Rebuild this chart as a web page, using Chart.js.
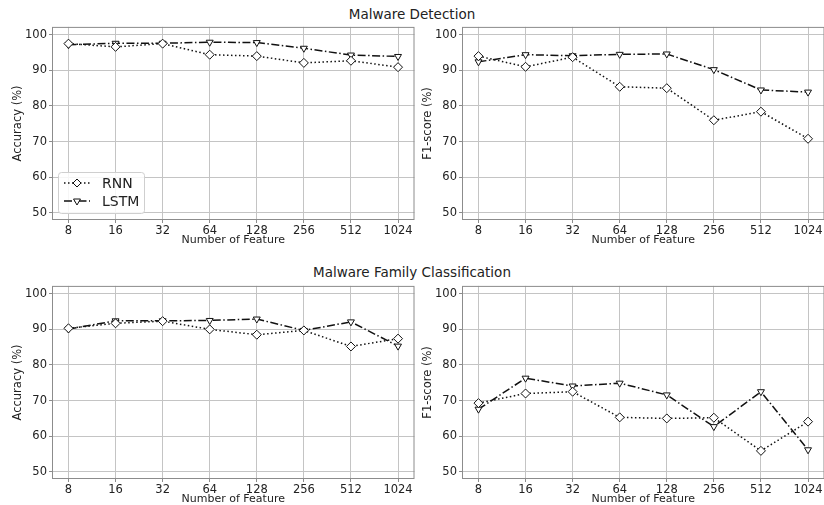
<!DOCTYPE html>
<html lang="en">
<head>
  <meta charset="UTF-8">
  <title>Malware Detection / Family Classification</title>
  <script src="https://cdn.jsdelivr.net/npm/chart.js"></script>
  <style>
    html, body {
      margin: 0;
      padding: 0;
      width: 824px;
      height: 505px;
      overflow: hidden;
      background: #fff;
      font-family: "DejaVu Sans", sans-serif;
    }
    .box {
      position: absolute;
      width: 420px;
      height: 232px;
    }
    .section-title {
      position: absolute;
      width: 824px;
      left: 0;
      text-align: center;
      font-size: 13.5px;
      color: #222;
    }
  </style>
</head>
<body>
  <div class="section-title" style="top:6px;">Malware Detection</div>
  <div class="section-title" style="top:264px;">Malware Family Classification</div>

  <div class="box" style="left:0px;top:18px;"><canvas id="detAcc"></canvas></div>
  <div class="box" style="left:410px;top:18px;"><canvas id="detF1"></canvas></div>
  <div class="box" style="left:0px;top:277px;"><canvas id="famAcc"></canvas></div>
  <div class="box" style="left:410px;top:277px;"><canvas id="famF1"></canvas></div>

  <script>
    const features = ['8', '16', '32', '64', '128', '256', '512', '1024'];
    const yTicks = [50, 60, 70, 80, 90, 100];

    // Malware detection
    const detAccRnn = [97.5, 96.6, 97.5, 94.4, 94.0, 92.1, 92.7, 90.9];
    const detAccLstm = [97.2, 97.6, 97.6, 97.9, 97.8, 96.2, 94.3, 93.9];
    const detF1Rnn = [94.0, 91.0, 93.7, 85.4, 85.0, 76.0, 78.4, 70.8];
    const detF1Lstm = [92.4, 94.4, 94.1, 94.5, 94.6, 90.2, 84.5, 83.9];

    // Malware family classification
    const famAccRnn = [90.3, 91.7, 92.3, 90.0, 88.5, 89.7, 85.2, 87.4];
    const famAccLstm = [90.1, 92.4, 92.4, 92.5, 92.9, 89.7, 92.1, 85.3];
    const famF1Rnn = [69.3, 72.0, 72.5, 65.3, 65.0, 65.2, 55.9, 64.1];
    const famF1Lstm = [67.6, 76.3, 74.1, 74.9, 71.6, 62.7, 72.5, 56.2];

    const rnnDash = [1.5, 2.5];
    const lstmDash = [8, 2.5, 1.5, 2.5];
    const gridColor = '#c4c4c4';
    const textColor = '#222';

    function toPoints(values) {
      return values.map((v, i) => ({ x: i, y: v }));
    }

    // axes frame drawn under the lines
    const framePlugin = {
      id: 'frame',
      beforeDatasetsDraw(chart) {
        const a = chart.chartArea;
        const ctx = chart.ctx;
        ctx.save();
        ctx.strokeStyle = '#8c8c8c';
        ctx.lineWidth = 1;
        ctx.strokeRect(a.left + 0.5, a.top + 0.5, a.right - a.left - 1, a.bottom - a.top - 1);
        ctx.restore();
      }
    };

    function diamond(ctx, x, y, r) {
      ctx.beginPath();
      ctx.moveTo(x, y - r);
      ctx.lineTo(x + r, y);
      ctx.lineTo(x, y + r);
      ctx.lineTo(x - r, y);
      ctx.closePath();
      ctx.fillStyle = '#fff';
      ctx.fill();
      ctx.stroke();
    }

    function triDown(ctx, x, y, r) {
      ctx.beginPath();
      ctx.moveTo(x, y + r);
      ctx.lineTo(x + r * 0.866, y - r / 2);
      ctx.lineTo(x - r * 0.866, y - r / 2);
      ctx.closePath();
      ctx.fillStyle = '#fff';
      ctx.fill();
      ctx.stroke();
    }

    // legend inside the first panel, lower left
    const legendPlugin = {
      id: 'insideLegend',
      afterDraw(chart) {
        if (!chart.options.plugins.insideLegend.show) return;
        const a = chart.chartArea;
        const ctx = chart.ctx;
        const bx = a.left + 6, by = a.bottom - 48, bw = 86, bh = 41;
        ctx.save();
        ctx.fillStyle = 'rgba(255,255,255,0.85)';
        ctx.strokeStyle = '#cfcfcf';
        ctx.lineWidth = 1;
        ctx.beginPath();
        ctx.roundRect(bx + 0.5, by + 0.5, bw, bh, 3);
        ctx.fill();
        ctx.stroke();

        const entries = [
          { label: 'RNN', dash: rnnDash, marker: diamond, r: 4, y: by + 11 },
          { label: 'LSTM', dash: lstmDash, marker: triDown, r: 4, y: by + 29 }
        ];
        entries.forEach(e => {
          ctx.strokeStyle = '#111';
          ctx.lineWidth = 1.5;
          ctx.setLineDash(e.dash);
          ctx.beginPath();
          ctx.moveTo(bx + 6, e.y);
          ctx.lineTo(bx + 32, e.y);
          ctx.stroke();
          ctx.setLineDash([]);
          ctx.lineWidth = 1;
          e.marker(ctx, bx + 19, e.y, e.r);
          ctx.fillStyle = textColor;
          ctx.font = '14px "DejaVu Sans"';
          ctx.textBaseline = 'middle';
          ctx.textAlign = 'left';
          ctx.fillText(e.label, bx + 44, e.y + 1);
        });
        ctx.restore();
      }
    };

    function makeChart(id, yTitle, rnn, lstm, showLegend) {
      const ctx = document.getElementById(id).getContext('2d');
      return new Chart(ctx, {
        type: 'line',
        data: {
          datasets: [
            {
              label: 'RNN',
              data: toPoints(rnn),
              borderColor: '#111',
              borderWidth: 1.5,
              borderDash: rnnDash,
              pointStyle: 'rectRot',
              pointRadius: 4.5,
              pointBackgroundColor: '#fff',
              pointBorderColor: '#111',
              pointBorderWidth: 1,
              fill: false,
              tension: 0
            },
            {
              label: 'LSTM',
              data: toPoints(lstm),
              borderColor: '#111',
              borderWidth: 1.5,
              borderDash: lstmDash,
              pointStyle: 'triangle',
              pointRotation: 180,
              pointRadius: 4,
              pointBackgroundColor: '#fff',
              pointBorderColor: '#111',
              pointBorderWidth: 1,
              fill: false,
              tension: 0
            }
          ]
        },
        options: {
          responsive: true,
          maintainAspectRatio: false,
          animation: false,
          layout: { padding: { top: 6, right: 3, left: 0, bottom: 0 } },
          plugins: {
            legend: { display: false },
            tooltip: { enabled: false },
            insideLegend: { show: showLegend }
          },
          scales: {
            x: {
              type: 'linear',
              min: -0.35,
              max: 7.35,
              afterBuildTicks(scale) {
                scale.ticks = features.map((f, i) => ({ value: i }));
              },
              afterFit(scale) { scale.height = 30; },
              ticks: {
                callback: (v) => features[v],
                color: textColor,
                font: { family: 'DejaVu Sans', size: 11.5 },
                padding: 1,
                maxRotation: 0,
                autoSkip: false
              },
              grid: { color: gridColor, lineWidth: 1, tickLength: 3, tickColor: '#8c8c8c' },
              border: { display: false },
              title: {
                display: true,
                text: 'Number of Feature',
                color: textColor,
                font: { family: 'DejaVu Sans', size: 11 },
                padding: { top: 0, bottom: 3 }
              }
            },
            y: {
              min: 48,
              max: 102.2,
              afterBuildTicks(scale) {
                scale.ticks = yTicks.map(v => ({ value: v }));
              },
              afterFit(scale) { scale.width = 52; },
              ticks: {
                color: textColor,
                font: { family: 'DejaVu Sans', size: 11.5 },
                padding: 2
              },
              grid: { color: gridColor, lineWidth: 1, tickLength: 3, tickColor: '#8c8c8c' },
              border: { display: false },
              title: {
                display: true,
                text: yTitle,
                color: textColor,
                font: { family: 'DejaVu Sans', size: 11.5 },
                padding: { top: 11, bottom: 0 }
              }
            }
          }
        },
        plugins: [framePlugin, legendPlugin]
      });
    }

    makeChart('detAcc', 'Accuracy (%)', detAccRnn, detAccLstm, true);
    makeChart('detF1', 'F1-score (%)', detF1Rnn, detF1Lstm, false);
    makeChart('famAcc', 'Accuracy (%)', famAccRnn, famAccLstm, false);
    makeChart('famF1', 'F1-score (%)', famF1Rnn, famF1Lstm, false);
  </script>
</body>
</html>
